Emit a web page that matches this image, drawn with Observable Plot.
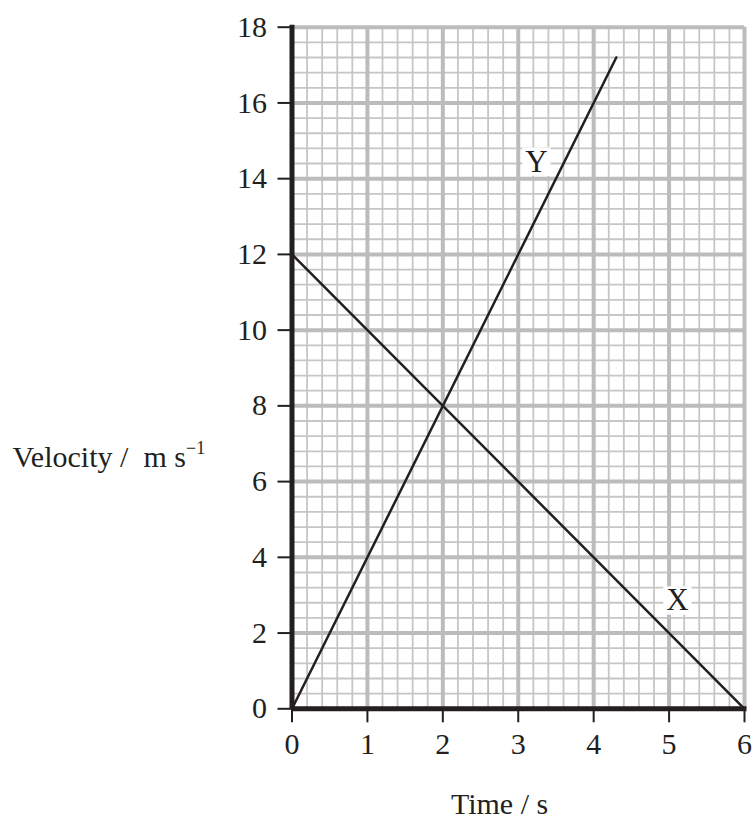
<!DOCTYPE html>
<html>
<head>
<meta charset="utf-8">
<script src="https://cdn.jsdelivr.net/npm/d3@7"></script>
<script src="https://cdn.jsdelivr.net/npm/@observablehq/plot@0.6"></script>
<style>
  html, body { margin: 0; padding: 0; background: #fff; }
  #chart svg { display: block; }
</style>
</head>
<body>
<div id="chart"></div>
<script>
// ---- data ----
const xTicks = [0, 1, 2, 3, 4, 5, 6];
const yTicks = [0, 2, 4, 6, 8, 10, 12, 14, 16, 18];
const xMinorStep = 0.2;
const yMinorStep = 0.4;
const lineX = [ {t: 0, v: 12}, {t: 6, v: 0} ];
const lineY = [ {t: 0, v: 0}, {t: 4.3, v: 17.2} ];
const lineLabels = [ {t: 5.11, v: 2.86, label: "X"}, {t: 3.24, v: 14.45, label: "Y"} ];
const yLabelA = "Velocity /";
const yLabelB = "m s";
const yLabelSup = "\u22121";
const xLabel = "Time / s";

const xMinor = d3.range(0, 6 + 1e-9, xMinorStep).filter(d => Math.abs(d - Math.round(d)) > 1e-6);
const yMinor = d3.range(0, 18 + 1e-9, yMinorStep).filter(d => Math.abs(d / 2 - Math.round(d / 2)) > 1e-6);

const ink = "#231f20";
const chart = Plot.plot({
  width: 754,
  height: 821,
  marginLeft: 291.5,
  marginRight: 10,
  marginTop: 26.7,
  marginBottom: 112.7,
  style: { fontFamily: "'Liberation Serif', 'Times New Roman', serif", background: "white", color: ink },
  x: { domain: [0, 6] },
  y: { domain: [0, 18] },
  marks: [
    Plot.ruleX(xMinor, { stroke: "#c6c6c6", strokeWidth: 1.8 }),
    Plot.ruleY(yMinor, { stroke: "#c6c6c6", strokeWidth: 1.8 }),
    Plot.ruleX(xTicks, { stroke: "#bcbcbc", strokeWidth: 4 }),
    Plot.ruleY(yTicks, { stroke: "#bcbcbc", strokeWidth: 4 }),
    Plot.line(lineX, { x: "t", y: "v", stroke: ink, strokeWidth: 2.5 }),
    Plot.line(lineY, { x: "t", y: "v", stroke: ink, strokeWidth: 2.5 }),
    Plot.dot(lineLabels, { x: "t", y: "v", symbol: "square", r: 16, fill: "white", stroke: null }),
    Plot.text(lineLabels, { x: "t", y: "v", text: "label", fontSize: 31, fill: ink }),
    Plot.ruleX([0], { stroke: ink, strokeWidth: 5, insetTop: -2 }),
    Plot.ruleY([0], { stroke: ink, strokeWidth: 5, insetRight: -2.5 }),
    Plot.axisX({ ticks: xTicks, tickSize: 14, tickPadding: 10, fontSize: 30, strokeWidth: 2, color: ink, label: null, tickFormat: d => String(d) }),
    Plot.axisY({ ticks: yTicks, tickSize: 14, tickPadding: 11, fontSize: 30, strokeWidth: 2, color: ink, label: null, tickFormat: d => String(d) }),
    Plot.text([yLabelA], { text: d => d, frameAnchor: "left", textAnchor: "start", lineAnchor: "bottom", dx: -279.5, dy: 99.2, fontSize: 30, fill: ink }),
    Plot.text([yLabelB], { text: d => d, frameAnchor: "left", textAnchor: "start", lineAnchor: "bottom", dx: -148.5, dy: 99.2, fontSize: 30, fill: ink }),
    Plot.text([yLabelSup], { text: d => d, frameAnchor: "left", textAnchor: "start", lineAnchor: "bottom", dx: -106, dy: 85.8, fontSize: 18, fill: ink }),
    Plot.text([xLabel], { text: d => d, frameAnchor: "bottom", lineAnchor: "bottom", dx: -18.75, dy: 105, fontSize: 30, fill: ink })
  ]
});
document.getElementById("chart").appendChild(chart);
</script>
</body>
</html>
